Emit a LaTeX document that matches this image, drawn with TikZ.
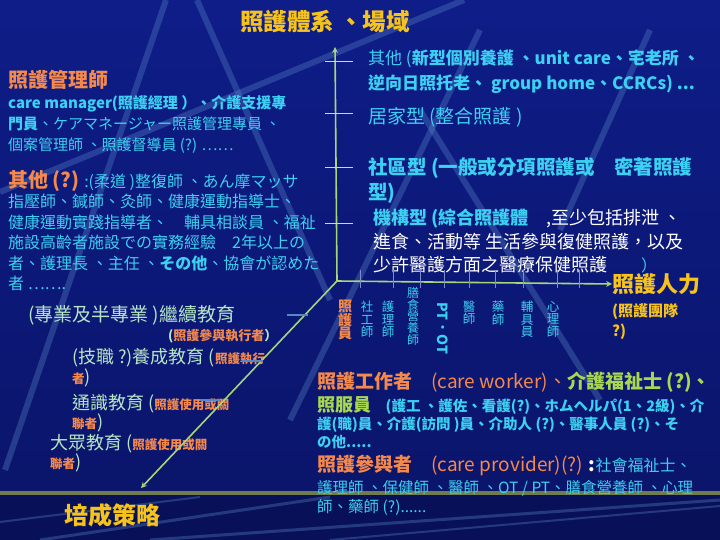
\documentclass[tikz,border=0pt]{standalone}
\usepackage{fontspec}
\setmainfont{Noto Sans CJK TC}

\definecolor{bgtop}{HTML}{0E1D88}
\definecolor{bgbot}{HTML}{0A1468}
\definecolor{stripeblue}{HTML}{5A86C8}
\definecolor{titleyel}{HTML}{F6C21C}
\definecolor{careorg}{HTML}{F5894C}
\definecolor{carecyan}{HTML}{3CD0F2}
\definecolor{palegrn}{HTML}{B6E6C6}
\definecolor{axisgrn}{HTML}{A6D67A}
\definecolor{leafgrn}{HTML}{A8D850}
\definecolor{tickblue}{HTML}{7C8CC8}
\definecolor{bandlit}{HTML}{C4D878}
\definecolor{banddim}{HTML}{6E7C50}

\tikzset{
  >=stealth,
  stripe/.style={draw=stripeblue, line width=6pt, opacity=.35},
  axisline/.style={draw=axisgrn, line width=1.6pt, ->},
  tickline/.style={draw=#1, line width=.7pt},
  lbl/.style={inner sep=0pt, anchor=west},
  txt/.style={inner sep=0pt, anchor=north west, align=left},
  vlbl/.style={inner sep=0pt, anchor=north, align=center, text=carecyan,
    font=\fontsize{12.5}{12.5}\selectfont},
}

\begin{document}
\begin{tikzpicture}[x=1pt,y=-1pt]
\useasboundingbox (0,0) rectangle (720,540);
\shade[top color=bgtop, bottom color=bgbot] (0,0) rectangle (720,540);
\fill[bgbot!85!black] (0,493) rectangle (720,540);

% stripes of the slide
\begin{scope}
\clip (0,0) rectangle (720,540);
\draw[stripe] (166,0) -- (5,470);
\draw[stripe] (197,0) -- (330,300);
\draw[stripe] (464,0) -- (0,192);
\draw[stripe] (480,30) -- (290,420);
\draw[stripe] (420,110) -- (600,400);
\draw[stripe] (650,30) -- (560,230);
\draw[stripe, line width=3pt] (40,540) -- (330,497);
\draw[stripe, line width=3pt] (150,540) -- (720,500);
\draw[stripe, line width=2pt] (330,540) -- (720,506);
\draw[stripe, line width=2pt] (0,522) -- (200,497);
\end{scope}
\shade[left color=banddim, middle color=bandlit, right color=banddim] (0,491.5) rectangle (720,494.5);

\node[lbl, anchor=center, text=titleyel, font=\bfseries\fontsize{23.5}{25}\selectfont] (title) at (325,22) {照護體系 、場域};

% left one
\node[lbl, text=careorg, font=\bfseries\fontsize{20}{22}\selectfont] (mgr) at (8,80) {照護管理師};
\node[txt, text=carecyan, font=\fontsize{15}{21}\selectfont] (mgrtext) at (8,95)
  {\textbf{care manager(照護經理 ）、介護支援專}\\\textbf{門員}、ケアマネージャー照護管理專員 、\\個案管理師 、照護督導員 (?) ……};
\node[txt, text=carecyan, font=\fontsize{16}{20.5}\selectfont] (other) at (8,170)
  {\textcolor{careorg}{\bfseries\fontsize{20}{20.5}\selectfont 其他 (?)} :(柔道 )整復師 、あん摩マッサ\\指壓師、鍼師、灸師、健康運動指導士、\\健康運動實踐指導者、　輔具相談員 、福祉\\施設高齡者施設での實務經驗　2年以上の\\者、護理長 、主任 、\textbf{その他}、協會が認めた\\者 …….};

\node[lbl, text=palegrn, font=\fontsize{19}{22}\selectfont] (cont) at (28,315) {(專業及半專業 )繼續教育};
\node[lbl, text=careorg, font=\bfseries\fontsize{13}{14}\selectfont] (perf) at (168,336)
  {\textcolor{palegrn}{(}照護參與執行者\textcolor{palegrn}{ ）}};
\node[txt, text=palegrn, font=\fontsize{18}{20}\selectfont] (voc) at (72,348)
  {(技職 ?)養成教育 (\textcolor{careorg}{\bfseries\fontsize{12.5}{20}\selectfont 照護執行}\\\textcolor{careorg}{\bfseries\fontsize{12.5}{20}\selectfont 者})};
\node[txt, text=palegrn, font=\fontsize{18}{19}\selectfont] (gen) at (72,394)
  {通識教育 (\textcolor{careorg}{\bfseries\fontsize{12.5}{19}\selectfont 照護使用或關}\\\textcolor{careorg}{\bfseries\fontsize{12.5}{19}\selectfont 聯者})};
\node[txt, text=palegrn, font=\fontsize{18}{17}\selectfont] (pub) at (50,434)
  {大眾教育 (\textcolor{careorg}{\bfseries\fontsize{12.5}{17}\selectfont 照護使用或關}\\\textcolor{careorg}{\bfseries\fontsize{12.5}{17}\selectfont 聯者})};
\node[lbl, anchor=center, text=titleyel, font=\bfseries\fontsize{24}{26}\selectfont] (strategy) at (112,515) {培成策略};

% right one
\node[txt, text=carecyan, font=\fontsize{17}{25}\selectfont] (othertype) at (368,50)
  {其他 (\textbf{新型個別養護 、unit care、宅老所 、}\\\textbf{逆向日照托老、 group home、CCRCs) ...}};
\node[lbl, text=carecyan, font=\fontsize{19}{22}\selectfont] (home) at (368,117) {居家型 (整合照護 )};
\node[txt, text=carecyan, font=\bfseries\fontsize{19.5}{25}\selectfont] (community) at (368,157)
  {社區型 (一般或分項照護或　密著照護\\型)};
\node[txt, text=white, font=\fontsize{18}{23.5}\selectfont] (inst) at (373,209)
  {\textcolor{carecyan}{\bfseries 機構型 (綜合照護體}　,至少包括排泄 、\\進食、活動等 生活參與復健照護，以及\\少許醫護方面之醫療保健照護\hspace{34pt}\textcolor{carecyan}{\fontsize{16}{16}\selectfont ）}};

\node[lbl, text=titleyel, font=\bfseries\fontsize{22}{24}\selectfont] (manpower) at (612,284) {照護人力};
\node[txt, text=titleyel, font=\bfseries\fontsize{15}{20}\selectfont] (team) at (612,303) {(照護團隊\\?)};

% staff under the axis
\node[vlbl, text=careorg, font=\bfseries\fontsize{14}{13.5}\selectfont] (aide) at (345,300) {照\\護\\員};
\node[vlbl] (social) at (367,301) {社\\工\\師};
\node[vlbl] (nurse) at (388,301) {護\\理\\師};
\node[vlbl, font=\fontsize{12}{11}\selectfont] (diet) at (413,287) {膳\\食\\營\\養\\師};
\node[vlbl, rotate=-90, anchor=west, font=\bfseries\fontsize{14}{14}\selectfont] (ptot) at (443,302) {PT．OT};
\node[vlbl] (doctor) at (469,301) {醫\\師};
\node[vlbl] (pharm) at (498,301) {藥\\師};
\node[vlbl] (aid) at (527,301) {輔\\具\\員};
\node[vlbl] (psych) at (553,301) {心\\理\\師};

% bottom one
\node[lbl, text=careorg, font=\fontsize{19}{20}\selectfont] (worker) at (317,382)
  {\textbf{照護工作者}　(care worker)、\textcolor{leafgrn}{\bfseries 介護福祉士 (?)、}};
\node[txt, text=carecyan, font=\bfseries\fontsize{14.5}{18}\selectfont] (attend) at (317,396)
  {\textcolor{leafgrn}{\fontsize{18}{18}\selectfont 照服員}　(護工 、護佐、看護(?)、ホムヘルパ(1、2級)、介\\護(職)員、介護(訪問 )員、介助人 (?)、醫事人員 (?)、そ\\の他.....};
\node[lbl, text=careorg, font=\fontsize{19}{20}\selectfont] (provider) at (317,465)
  {\textbf{照護參與者}　(care provider)(?) \textcolor{white}{\bfseries :}\textcolor{carecyan}{\fontsize{16}{20}\selectfont 社會福祉士、}};
\node[txt, text=carecyan, font=\fontsize{15.5}{19}\selectfont] (provlist) at (317,480)
  {護理師 、保健師 、醫師 、OT / PT、膳食營養師 、心理\\師、藥師 (?)......};

% axes
\coordinate (origin) at (337,281);
\coordinate (ytip) at (335,47);
\coordinate (ztip) at (141,488);
\draw[axisline] (origin) -- (ytip);
\draw[axisline] (origin) -- (manpower.west);
\draw[axisline] (origin) -- (ztip);

\draw[tickline=palegrn] (325,61) -- (353,61) (325,113) -- (353,113) (325,167) -- (353,167) (325,223) -- (353,223);
\draw[tickline=tickblue] (360,270) -- (360,288) (393,270) -- (393,288) (420,270) -- (420,288)
  (444,270) -- (444,288) (469,270) -- (469,288) (495,270) -- (495,288) (523,270) -- (523,288)
  (557,270) -- (557,288) (579,270) -- (579,288);
\draw[tickline=stripeblue, line width=1.5pt] (287,315) -- (308,315) (242,361) -- (263,361) (200,400) -- (220,400);
\end{tikzpicture}
\end{document}
